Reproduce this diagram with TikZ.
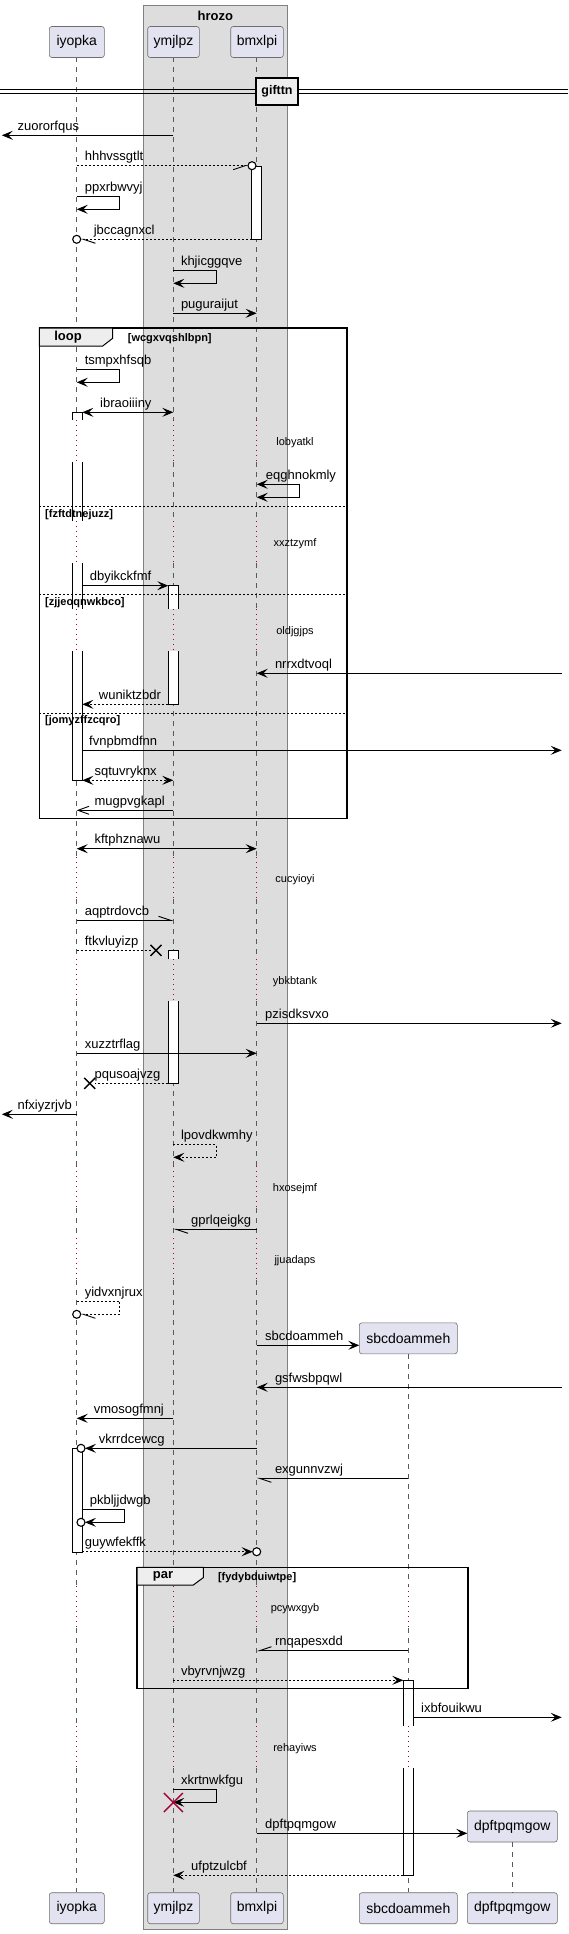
\documentclass[tikz,border=0pt]{standalone}
\usepackage{fontspec}
\setmainfont{Liberation Sans}
\usetikzlibrary{arrows.meta,calc}
\definecolor{PartClr}{RGB}{226,226,240}
\definecolor{PartLineClr}{RGB}{110,110,110}
\definecolor{GroupClr}{RGB}{221,221,221}
\definecolor{GroupLineClr}{RGB}{128,128,128}
\definecolor{LifeClr}{RGB}{90,90,90}
\definecolor{DelayClr}{RGB}{168,0,54}
\definecolor{TabClr}{RGB}{238,238,238}

\newcommand{\SeqMsg}[6][]{%
  \coordinate (#5-a) at (#3,#2);
  \coordinate (#5-b) at (#4,#2);
  \draw[msg,#1] (#5-a) -- (#5-b);
  \node[msglbl] (#5) at (#6,#2-5) {#5};}
\newcommand{\SeqSelf}[8][]{%
  \coordinate (#7-a) at (#4,#2);
  \coordinate (#7-b) at (#6,#3);
  \draw[msg,#1] (#7-a) -- (#5,#2) -- (#5,#3) -- (#7-b);
  \node[msglbl] (#7) at (#8,#2-5) {#7};}
\newcommand{\SeqDelay}[2]{\node[delaylbl] (#2) at (295,#1+4) {#2};}
\newcommand{\SeqCross}[4][black]{\draw[#1,line width=1.4pt] (#2-#4,#3-#4) -- (#2+#4,#3+#4) (#2-#4,#3+#4) -- (#2+#4,#3-#4);}
\newcommand{\ActFull}[3]{\draw[actline,fill=white] (#1,#2) rectangle (#1+10,#3);}
\newcommand{\ActTop}[3]{\fill[white] (#1,#2) rectangle (#1+10,#3);
  \draw[actline] (#1,#3) -- (#1,#2) -- (#1+10,#2) -- (#1+10,#3);}
\newcommand{\ActMid}[3]{\fill[white] (#1,#2) rectangle (#1+10,#3);
  \draw[actline] (#1,#2) -- (#1,#3) (#1+10,#2) -- (#1+10,#3);}
\newcommand{\ActBot}[3]{\fill[white] (#1,#2) rectangle (#1+10,#3);
  \draw[actline] (#1,#2) -- (#1,#3) -- (#1+10,#3) -- (#1+10,#2);}

\begin{document}
\begin{tikzpicture}[x=1pt,y=-1pt,
  >={Stealth[length=11pt,width=9pt,inset=4.5pt]},
  partbox/.style={draw=PartLineClr,fill=PartClr,rounded corners=2.5pt,line width=0.6pt,
    minimum height=31pt,inner sep=0pt,font=\fontsize{14}{16}\selectfont},
  msg/.style={line width=0.9pt,->},
  msglbl/.style={anchor=base west,inner sep=0pt,font=\fontsize{13}{15}\selectfont},
  delaylbl/.style={anchor=base,inner sep=0pt,font=\fontsize{11}{13}\selectfont},
  dotmsg/.style={dash pattern=on 2pt off 2pt},
  twoway/.style={<->},
  openhead/.style={-{Straight Barb[length=11pt,width=8pt]}},
  harpL/.style={-{Straight Barb[left,length=12pt,width=8pt]}},
  harpR/.style={-{Straight Barb[right,length=12pt,width=8pt]}},
  endcirc/.style={draw=black,fill=white,line width=1.1pt},
  life/.style={draw=LifeClr,dash pattern=on 5pt off 5pt,line width=0.6pt},
  delay/.style={draw=DelayClr,dash pattern=on 1pt off 4pt,line width=0.9pt},
  actline/.style={draw=black,line width=0.9pt},
  fragbox/.style={draw=black,line width=1.6pt},
  fragtab/.style={draw=black,fill=TabClr,line width=1pt},
  fragsep/.style={draw=black,dash pattern=on 2pt off 2pt,line width=0.8pt},
  fraglbl/.style={inner sep=0pt,font=\bfseries\fontsize{13}{15}\selectfont},
  condlbl/.style={anchor=base west,inner sep=0pt,font=\bfseries\fontsize{11}{13}\selectfont}]
\useasboundingbox (0,0) rectangle (568,1934);

\draw[draw=GroupLineClr,fill=GroupClr,line width=1pt] (143.3,6) rectangle (287.3,1929.3);
\node[fraglbl] (hrozo) at (215.3,15.5) {hrozo};

\foreach \x in {76.7,173.3,256.7}{
  \foreach \a/\b in {57.3/420,462/521,563/609,651/857,899/959,1001/1166,1208/1238,1280/1586,1628/1726,1768/1892.3}
    \draw[life] (\x,\a) -- (\x,\b);
  \foreach \a/\b in {420/462,521/563,609/651,857/899,959/1001,1166/1208,1238/1280,1586/1628,1726/1768}
    \draw[delay] (\x,\a) -- (\x,\b);
}
\foreach \a/\b in {1354/1586,1628/1726,1768/1892.3}
  \draw[life] (408.3,\a) -- (408.3,\b);
\foreach \a/\b in {1586/1628,1726/1768}
  \draw[delay] (408.3,\a) -- (408.3,\b);

\node[partbox,minimum width=55pt] (iyopka-top) at (76.8,42) {iyopka};
\node[partbox,minimum width=51.6pt] (ymjlpz-top) at (173.5,42) {ymjlpz};
\node[partbox,minimum width=52.6pt] (bmxlpi-top) at (257,42) {bmxlpi};
\node[partbox,minimum width=98pt] (sbcdoammeh-top) at (408.3,1338.3) {sbcdoammeh};
\node[partbox,minimum width=90pt] (dpftpqmgow-top) at (512.3,1826.5) {dpftpqmgow};
\node[partbox,minimum width=55pt] (iyopka-bot) at (76.8,1908.2) {iyopka};
\node[partbox,minimum width=51.6pt] (ymjlpz-bot) at (173.5,1908.2) {ymjlpz};
\node[partbox,minimum width=52.6pt] (bmxlpi-bot) at (257,1908.2) {bmxlpi};
\node[partbox,minimum width=98pt] (sbcdoammeh-bot) at (408.3,1908.2) {sbcdoammeh};
\node[partbox,minimum width=90pt] (dpftpqmgow-bot) at (512.3,1908.2) {dpftpqmgow};
\draw[life] (dpftpqmgow-top) -- (dpftpqmgow-bot);

\draw[line width=1pt] (0,89.3) -- (568,89.3) (0,93.3) -- (568,93.3);
\node[draw=black,fill=TabClr,line width=1.6pt,minimum width=41.7pt,minimum height=27pt,
  inner sep=0pt,font=\bfseries\fontsize{12.5}{15}\selectfont] (gifttn) at (277,91.5) {gifttn};

\ActFull{251.7}{166}{239.3}
\ActTop{72.3}{412.3}{420}
\ActMid{72.3}{462}{521}
\ActMid{72.3}{563}{609}
\ActBot{72.3}{651}{780.3}
\ActTop{168.3}{585.7}{609}
\ActBot{168.3}{651}{704.3}
\ActTop{168.3}{950.3}{959}
\ActBot{168.3}{1001}{1083.3}
\ActFull{72.3}{1448.3}{1552.3}
\ActTop{403.3}{1680.3}{1726}
\ActBot{403.3}{1768}{1875.3}

\draw[fragbox] (39.3,328) rectangle (347,818.3);
\draw[fragtab] (39.3,328) -- (112.7,328) -- (112.7,338.3) -- (102.7,346) -- (39.3,346) -- cycle;
\node[fraglbl] (loop) at (68,337) {loop};
\node[condlbl] (wcgxvqshlbpn) at (127.7,341.5) {[wcgxvqshlbpn]};
\draw[fragsep] (39.3,506.3) -- (347,506.3);
\node[condlbl] (fzftdtnejuzz) at (45,517.5) {[fzftdtnejuzz]};
\draw[fragsep] (39.3,594.3) -- (347,594.3);
\node[condlbl] (zjjeoqnwkbco) at (45,605.5) {[zjjeoqnwkbco]};
\draw[fragsep] (39.3,713) -- (347,713);
\node[condlbl] (jomyzffzcqro) at (45,723.5) {[jomyzffzcqro]};

\draw[fragbox] (137.2,1567.3) rectangle (468.2,1688.3);
\draw[fragtab] (137.2,1567.3) -- (203.3,1567.3) -- (203.3,1577.6) -- (193.3,1585) -- (137.2,1585) -- cycle;
\node[fraglbl] (par) at (163,1576.3) {par};
\node[condlbl] (fydybduiwtpe) at (217.8,1580.5) {[fydybduiwtpe]};

\SeqMsg{135.3}{173.3}{1.8}{zuororfqus}{17.4}
\SeqMsg[dotmsg,harpR]{165.7}{76.7}{248}{hhhvssgtlt}{84.6}
\draw[endcirc] (252,165.7) circle[radius=4pt];
\SeqSelf{196.7}{209.3}{76.7}{119.8}{76.7}{ppxrbwvyj}{84.6}
\SeqMsg[dotmsg,harpL]{239.3}{251.7}{80.7}{jbccagnxcl}{93.6}
\draw[endcirc] (76.7,239.3) circle[radius=4pt];
\SeqSelf{270.7}{283.3}{173.3}{216}{173.3}{khjicggqve}{180.8}
\SeqMsg{313.3}{173.3}{256.7}{puguraijut}{180.8}
\SeqSelf{369.3}{382.3}{76.7}{119.3}{76.7}{tsmpxhfsqb}{84.6}
\SeqMsg[twoway]{412.3}{82.3}{173.3}{ibraoiiiny}{100}
\SeqDelay{441}{lobyatkl}
\SeqSelf[twoway]{484.3}{497.3}{256.7}{299.8}{256.7}{eqghnokmly}{265.7}
\SeqDelay{542}{xxztzymf}
\SeqMsg{585.7}{82.3}{168.3}{dbyikckfmf}{89.7}
\SeqDelay{630}{oldjgjps}
\SeqMsg{673.3}{561.7}{256.7}{nrrxdtvoql}{274.8}
\SeqMsg[dotmsg]{704.3}{168.3}{82.3}{wuniktzbdr}{98.7}
\SeqMsg{750.3}{82.3}{561.7}{fvnpbmdfnn}{89}
\SeqMsg[dotmsg,twoway]{780.3}{82.3}{173.3}{sqtuvryknx}{94.4}
\SeqMsg[openhead]{810.3}{173.3}{76.7}{mugpvgkapl}{94.4}
\SeqMsg[twoway]{848.7}{76.7}{256.7}{kftphznawu}{94.4}
\SeqDelay{878}{cucyioyi}
\SeqMsg[harpL]{920.3}{76.7}{173.3}{aqptrdovcb}{84.6}
\SeqMsg[dotmsg,-]{950.3}{76.7}{151}{ftkvluyizp}{84.6}
\SeqCross{156}{950.3}{5.5}
\SeqDelay{980}{ybkbtank}
\SeqMsg{1023.3}{256.7}{561.7}{pzisdksvxo}{265}
\SeqMsg{1053.3}{76.7}{256.7}{xuzztrflag}{84.6}
\SeqMsg[dotmsg,-]{1083.3}{168.3}{95}{pqusoajvzg}{94.4}
\SeqCross{89.7}{1083.3}{5.5}
\SeqMsg{1114.3}{76.7}{1.8}{nfxiyzrjvb}{17.4}
\SeqSelf[dotmsg]{1144.3}{1157.3}{173.3}{216}{173.3}{lpovdkwmhy}{180.8}
\SeqDelay{1187}{hxosejmf}
\SeqMsg[harpL]{1229.3}{256.7}{173.3}{gprlqeigkg}{191}
\SeqDelay{1259}{jjuadaps}
\SeqSelf[dotmsg,harpL]{1301.3}{1314.3}{76.7}{119.8}{80.7}{yidvxnjrux}{84.6}
\draw[endcirc] (76.7,1314.3) circle[radius=4pt];
\SeqMsg{1345.3}{256.7}{359.3}{sbcdoammeh}{265}
\SeqMsg{1387.3}{561.7}{256.7}{gsfwsbpqwl}{274.8}
\SeqMsg{1418.3}{173.3}{76.7}{vmosogfmnj}{93.6}
\SeqMsg{1448.3}{256.7}{85}{vkrrdcewcg}{98.7}
\draw[endcirc] (81,1448.3) circle[radius=4pt];
\SeqMsg[harpL]{1478.3}{408.3}{256.7}{exgunnvzwj}{274.8}
\SeqSelf{1509.3}{1522.3}{82.3}{124.3}{85}{pkbljjdwgb}{89.7}
\draw[endcirc] (81,1522.3) circle[radius=4pt];
\SeqMsg[dotmsg]{1551.7}{82.3}{252.7}{guywfekffk}{84.6}
\draw[endcirc] (256.7,1551.7) circle[radius=4pt];
\SeqDelay{1607}{pcywxgyb}
\SeqMsg[harpR]{1650.7}{408.3}{256.7}{rnqapesxdd}{274.8}
\SeqMsg[dotmsg]{1680.3}{173.3}{403.3}{vbyrvnjwzg}{180.8}
\SeqMsg{1717.3}{413.3}{561.7}{ixbfouikwu}{421}
\SeqDelay{1747}{rehayiws}
\SeqSelf{1789.3}{1802.3}{173.3}{216}{173.3}{xkrtnwkfgu}{180.8}
\SeqCross[DelayClr]{173.3}{1802.5}{9.5}
\SeqMsg{1833.3}{256.7}{467.3}{dpftpqmgow}{265}
\SeqMsg[dotmsg]{1875.3}{403.3}{173.3}{ufptzulcbf}{191}
\end{tikzpicture}
\end{document}
